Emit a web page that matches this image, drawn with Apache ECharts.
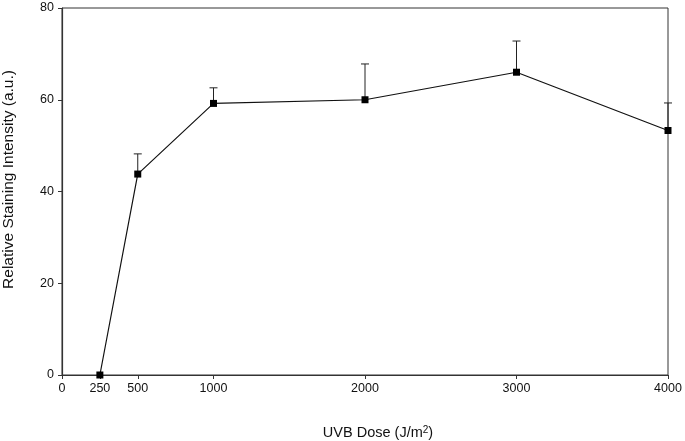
<!DOCTYPE html>
<html>
<head>
<meta charset="utf-8">
<script src="https://cdn.jsdelivr.net/npm/echarts@6/dist/echarts.min.js"></script>
<style>
  html, body { margin: 0; padding: 0; background: #fff; }
  #chart { width: 685px; height: 441px; }
</style>
</head>
<body>
<div id="chart"></div>
<script>
let doses = [250, 500, 1000, 2000, 3000, 4000]
let intensity = [0, 43.8, 59.2, 60.0, 66.0, 53.3]
let errUpper = [0, 48.2, 62.6, 67.8, 72.8, 59.3]
let xTicks = [0, 250, 500, 1000, 2000, 3000, 4000]

let chart = echarts.init(document.getElementById('chart'))

let lineData = doses.map(function (d, i) { return [d, intensity[i]] })
let errData = doses.map(function (d, i) { return [d, intensity[i], errUpper[i]] })
  .filter(function (item) { return item[2] > item[1] })

let option = {
  animation: false,
  textStyle: { fontFamily: 'Liberation Sans, Arial, sans-serif' },
  grid: {
    left: 62, right: 17, top: 8, bottom: 66,
    outerBoundsMode: 'none',
    containLabel: false,
    show: true, borderColor: '#333', borderWidth: 1
  },
  xAxis: {
    type: 'value',
    min: 0, max: 4000,
    name: 'UVB Dose (J/m{sup|2})',
    nameLocation: 'middle',
    nameGap: 50,
    nameTextStyle: {
      color: '#111', fontSize: 14.5,
      padding: [0, 0, 0, 26],
      rich: { sup: { fontSize: 10, verticalAlign: 'top', padding: [0, 0, 6, 0], color: '#111' } }
    },
    axisLine: { lineStyle: { color: '#333', width: 1.2 } },
    axisTick: { customValues: xTicks, length: 4, lineStyle: { color: '#333' } },
    axisLabel: {
      customValues: xTicks, color: '#111', fontSize: 12.5, margin: 7,
      formatter: function (v) { return String(v) }
    },
    splitLine: { show: false }
  },
  yAxis: {
    type: 'value',
    min: 0, max: 80, interval: 20,
    name: 'Relative Staining Intensity (a.u.)',
    nameLocation: 'middle',
    nameGap: 45,
    nameTextStyle: { color: '#111', fontSize: 15.5, padding: [0, 0, 0, 24] },
    axisLine: { show: true, lineStyle: { color: '#333', width: 1.2 } },
    axisTick: { show: true, length: 4, lineStyle: { color: '#333' } },
    axisLabel: { color: '#111', fontSize: 12.5, margin: 8 },
    splitLine: { show: false }
  },
  series: [
    {
      type: 'custom',
      data: errData,
      z: 1,
      renderItem: function (params, api) {
        let base = api.coord([api.value(0), api.value(1)])
        let top = api.coord([api.value(0), api.value(2)])
        let cap = 4
        return {
          type: 'group',
          children: [
            { type: 'line', shape: { x1: base[0], y1: base[1], x2: top[0], y2: top[1] },
              style: { stroke: '#222', lineWidth: 1 } },
            { type: 'line', shape: { x1: top[0] - cap, y1: top[1], x2: top[0] + cap, y2: top[1] },
              style: { stroke: '#222', lineWidth: 1 } }
          ]
        }
      }
    },
    {
      type: 'line',
      data: lineData,
      z: 3,
      symbol: 'rect',
      symbolSize: 7,
      lineStyle: { color: '#111', width: 1.2 },
      itemStyle: { color: '#000' }
    }
  ]
}
chart.setOption(option)
</script>
</body>
</html>
